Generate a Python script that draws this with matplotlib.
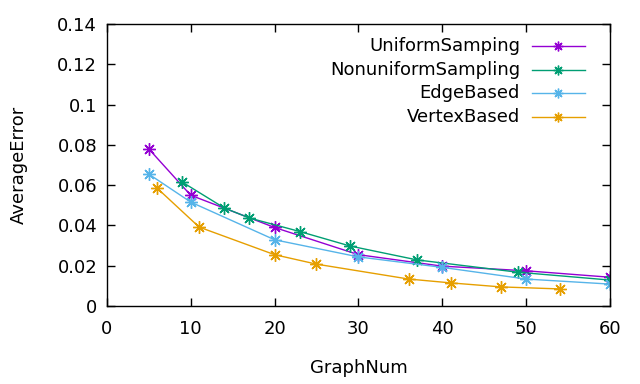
import matplotlib
matplotlib.use("Agg")
import matplotlib.pyplot as plt
from matplotlib.lines import Line2D

### データ
uniform_x = [5, 10, 20, 30, 40, 50, 60]
uniform_y = [0.078, 0.055, 0.039, 0.0255, 0.0198, 0.0175, 0.0143]

nonuniform_x = [9, 14, 17, 23, 29, 37, 49, 60]
nonuniform_y = [0.0615, 0.0487, 0.0437, 0.037, 0.0298, 0.0229, 0.0168, 0.0129]

edge_x = [5, 10, 20, 30, 40, 50, 60]
edge_y = [0.0655, 0.0516, 0.0329, 0.0244, 0.0192, 0.0134, 0.0109]

vertex_x = [6, 11, 20, 25, 36, 41, 47, 54]
vertex_y = [0.0585, 0.0392, 0.0255, 0.0208, 0.0134, 0.0115, 0.0095, 0.0085]

labels = ["UniformSamping", "NonuniformSampling", "EdgeBased", "VertexBased"]
colors = ["#9400d3", "#009e73", "#56b4e9", "#e69f00"]

x_ticks = [0, 10, 20, 30, 40, 50, 60]
y_ticks = [0, 0.02, 0.04, 0.06, 0.08, 0.1, 0.12, 0.14]

plt.rcParams["font.family"] = ["DejaVu Sans"]
plt.rcParams["font.size"] = 13

fig = plt.figure(figsize=(6.4, 3.84), dpi=100)
ax = fig.add_axes([0.167, 0.203, 0.786, 0.7345])

series = [(uniform_x, uniform_y), (nonuniform_x, nonuniform_y),
          (edge_x, edge_y), (vertex_x, vertex_y)]
for (xs, ys), lab, c in zip(series, labels, colors):
    ax.plot(xs, ys, color=c, lw=1.0, marker=(8, 2, 0), ms=9, mew=1.0,
            label=lab)

ax.set_xlim(0, 60)
ax.set_ylim(0, 0.14)
ax.set_xticks(x_ticks)
ax.set_xticklabels([str(v) for v in x_ticks])
ax.set_yticks(y_ticks)
ax.set_yticklabels(["%g" % v for v in y_ticks])
ax.tick_params(direction="in", length=6, width=1, top=True, right=True,
               labelsize=13)
ax.tick_params(axis="x", pad=10)
ax.tick_params(axis="y", pad=7)
for s in ax.spines.values():
    s.set_linewidth(1.0)

ax.set_xlabel("GraphNum", labelpad=15)
ax.set_ylabel("AverageError", labelpad=21)

# 凡例（gnuplot風：文字右寄せ、線は右側）
row_y = [0.923, 0.837, 0.756, 0.671]
for lab, c, yy in zip(labels, colors, row_y):
    ax.text(0.821, yy, lab, transform=ax.transAxes, ha="right", va="center")
    ax.add_line(Line2D([0.845, 0.950], [yy, yy], transform=ax.transAxes,
                       color=c, lw=1.0))
    ax.add_line(Line2D([0.8975], [yy], transform=ax.transAxes, color=c,
                       marker=(8, 2, 0), ms=7, mew=1.0))

fig.savefig("out.png", dpi=100)
